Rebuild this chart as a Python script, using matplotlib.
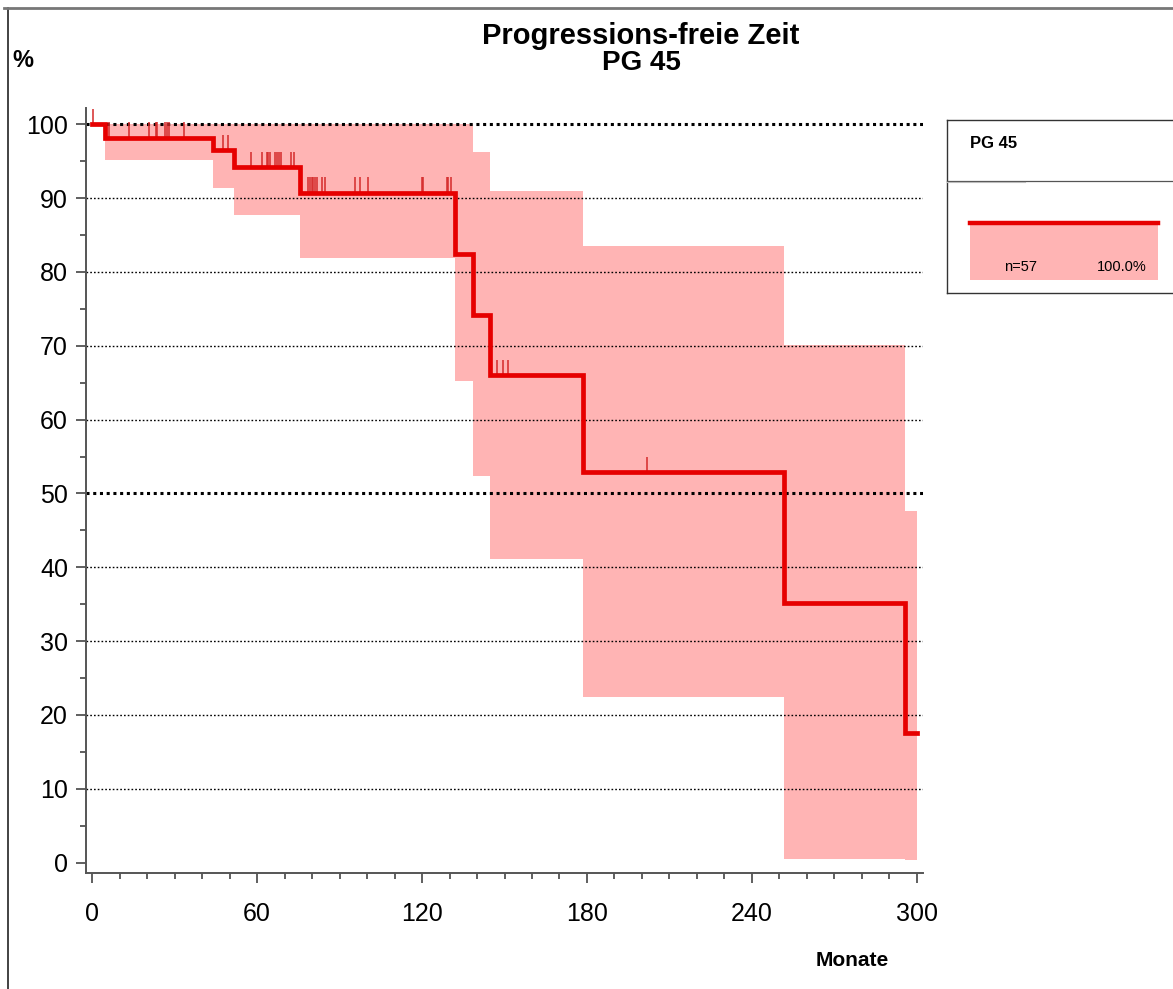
import numpy as np
import matplotlib
matplotlib.use("Agg")
import matplotlib.pyplot as plt
from matplotlib.lines import Line2D
from matplotlib.patches import Rectangle

plt.rcParams['font.family'] = ['Liberation Sans', 'DejaVu Sans']

# Kaplan-Meier estimate (months, %)
event_times = [0, 4.7, 44.0, 51.6, 75.5, 131.9, 138.4, 144.6, 178.4, 251.7, 295.7]
surv = [100, 98.2, 96.5, 94.2, 90.7, 82.4, 74.2, 66.0, 52.9, 35.2, 17.6]
ci_upper = [100, 100, 100, 100, 100, 100, 96.3, 90.9, 83.5, 70.1, 47.6]
ci_lower = [100, 95.1, 91.3, 87.7, 81.9, 65.2, 52.4, 41.1, 22.5, 0.5, 0.3]
end_time = 300

censor_times = [0.4, 6.3, 13.5, 20.7, 23.3, 23.7, 26.5, 27.4, 28.1, 33.5,
                47.5, 49.3,
                57.7, 61.7, 63.5, 64.1, 64.7, 66.5, 67.4, 68.1, 68.8, 72.3, 73.3,
                78.4, 79.3, 79.9, 80.5, 81.1, 81.7, 83.5, 84.7, 95.6, 97.5, 100.5,
                119.9, 120.5, 129.0, 129.6, 130.4,
                147.4, 149.3, 151.4,
                201.7]

group_name = "PG 45"
n_patients = 57
group_share = "100.0%"

red = "#e60000"
pink = "#ffb4b4"

W, H = 1173, 989
fig = plt.figure(figsize=(W / 100, H / 100), dpi=100)
ax = fig.add_axes([86 / W, 1 - 873 / H, (923 - 86) / W, (873 - 108) / H])

t = np.array(event_times + [end_time])
s = np.array(surv + [surv[-1]])
up = np.array(ci_upper + [ci_upper[-1]])
lo = np.array(ci_lower + [ci_lower[-1]])

ax.fill_between(t, lo, up, step='post', color=pink, lw=0, zorder=1)

# dotted reference lines
for yv in range(10, 100, 10):
    if yv == 50:
        continue
    ax.axhline(yv, color='black', lw=1.0, ls=(0, (1.2, 1.5)), zorder=2)
for yv in (50, 100):
    ax.axhline(yv, color='black', lw=2.2, ls=(0, (1, 1.2)), zorder=2)

ax.step(t, s, where='post', color=red, lw=3.4, zorder=4, solid_joinstyle='miter')

idx = np.searchsorted(event_times, censor_times, side='right') - 1
lvl = np.array(surv)[idx]
ax.vlines(censor_times, lvl, lvl + 2.1, color="#d42a2a", lw=1.1, zorder=3, clip_on=False)

ax.set_xlim(-2.2, 302.2)
ax.set_ylim(-1.4, 102.2)
ax.set_xticks(range(0, 301, 60))
ax.set_xticks(range(0, 301, 10), minor=True)
ax.set_yticks(range(0, 101, 10))
ax.set_yticks(range(5, 100, 10), minor=True)
ax.tick_params(axis='both', which='major', length=7, width=1.2, color='#444444',
               labelsize=18)
ax.tick_params(axis='both', which='minor', length=4, width=1.2, color='#444444')
ax.tick_params(axis='x', which='major', pad=14)
ax.tick_params(axis='y', which='major', pad=6)
for side in ('top', 'right'):
    ax.spines[side].set_visible(False)
for side in ('left', 'bottom'):
    ax.spines[side].set_color('#555555')
    ax.spines[side].set_linewidth(1.4)

# titles and axis names
fig.text(641 / W, 1 - 44 / H, "Progressions-freie Zeit", ha='center', va='baseline',
         fontsize=21, fontweight='bold')
fig.text(641 / W, 1 - 70 / H, group_name, ha='center', va='baseline',
         fontsize=20, fontweight='bold')
fig.text(12 / W, 1 - 67 / H, "%", ha='left', va='baseline', fontsize=17, fontweight='bold')
fig.text(852 / W, 1 - 966 / H, "Monate", ha='center', va='baseline', fontsize=15,
         fontweight='bold')

# outer frame
fig.add_artist(Line2D([8 / W, 8 / W], [0, 1 - 8 / H], color='#222222', lw=1.2))
fig.add_artist(Line2D([4 / W, 1], [1 - 8 / H, 1 - 8 / H], color='#777777', lw=2))

# legend box
box_c = '#333333'
fig.add_artist(Line2D([947 / W, 1], [1 - 120 / H] * 2, color=box_c, lw=1))
fig.add_artist(Line2D([947 / W, 1], [1 - 293 / H] * 2, color=box_c, lw=1))
fig.add_artist(Line2D([947 / W, 947 / W], [1 - 293 / H, 1 - 120 / H], color=box_c, lw=1))
fig.add_artist(Line2D([947 / W, 1], [1 - 181 / H] * 2, color='#555555', lw=0.9))
fig.add_artist(Line2D([947 / W, 1025 / W], [1 - 182.5 / H] * 2, color='#bbbbbb', lw=0.8))
fig.text(970 / W, 1 - 148 / H, group_name, ha='left', va='baseline', fontsize=12,
         fontweight='bold')
fig.add_artist(Rectangle((970 / W, 1 - 280 / H), (1158 - 970) / W, (280 - 223) / H,
                         transform=fig.transFigure, color=pink, lw=0))
fig.add_artist(Line2D([970 / W, 1158 / W], [1 - 223 / H] * 2, color=red, lw=3.2))
fig.text(1021 / W, 1 - 271 / H, f"n={n_patients}", ha='center', va='baseline', fontsize=10.5)
fig.text(1147 / W, 1 - 271 / H, group_share, ha='right', va='baseline', fontsize=10.5)

fig.savefig("out.png", dpi=100)
